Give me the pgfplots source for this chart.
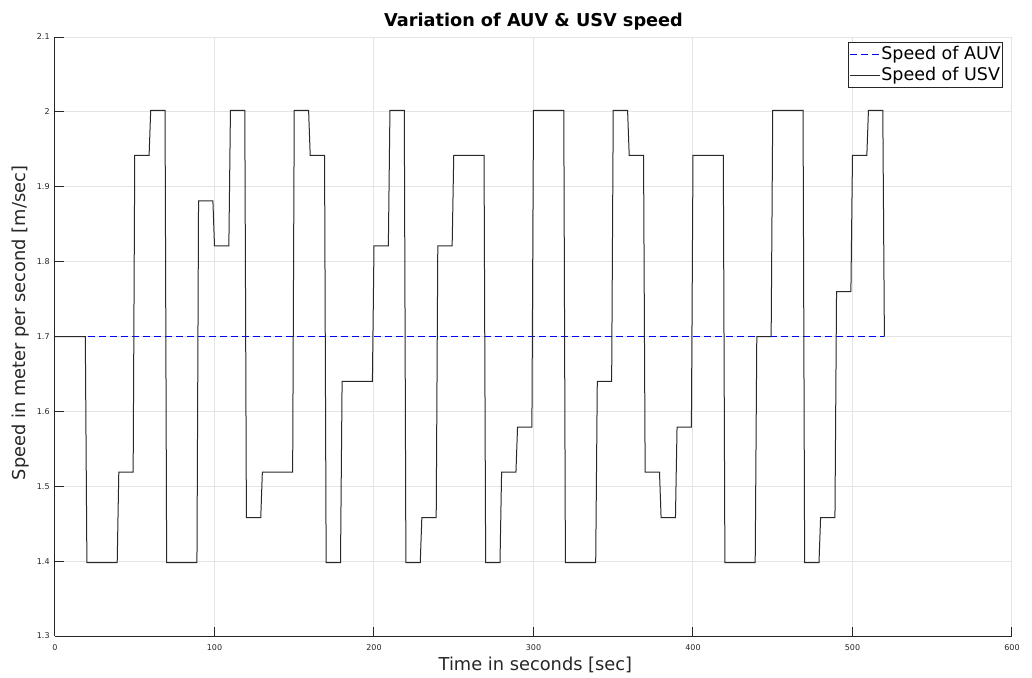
\documentclass[border=0pt]{standalone}
\usepackage{fontspec}
\setmainfont{DejaVu Sans}
\usepackage{pgfplots}
\pgfplotsset{compat=1.18}
\definecolor{axisgray}{RGB}{38,38,38}
\definecolor{gridgray}{RGB}{228,228,228}
\definecolor{usvline}{RGB}{40,40,40}
\begin{document}
\begin{tikzpicture}
\begin{axis}[
  at={(0pt,0pt)}, anchor=south west,
  scale only axis, width=478.5pt, height=299.5pt,
  xmin=0, xmax=600, ymin=1.3, ymax=2.1,
  xtick={0,100,200,300,400,500,600},
  ytick={1.3,1.4,1.5,1.6,1.7,1.8,1.9,2.0,2.1},
  axis lines=left,
  axis line style={-, axisgray, line width=0.5pt},
  tick style={axisgray, line width=0.5pt},
  major tick length=4.5pt, tick align=inside,
  grid=major, major grid style={gridgray, line width=0.5pt},
  /pgf/number format/assume math mode=true,
  ticklabel style={font=\fontsize{4}{5}\selectfont, text=axisgray},
  xticklabel style={anchor=north, inner sep=0pt, yshift=-4pt},
  yticklabel style={anchor=east, inner sep=0pt, xshift=-2.5pt},
  title={Variation of AUV \& USV speed},
  title style={font=\fontsize{8.85}{10}\bfseries, at={(axis description cs:0.5,1)}, anchor=base, yshift=-0.8pt},
  xlabel={Time in seconds [sec]},
  xlabel style={font=\fontsize{8.9}{10}\selectfont, text=axisgray, at={(axis description cs:0.502,0)}, anchor=base, yshift=-17pt},
  ylabel={Speed in meter per second [m/sec]},
  ylabel style={font=\fontsize{8.9}{10}\selectfont, text=axisgray, at={(axis description cs:-0.0313,0.5225)}, anchor=base, rotate=0},
  legend cell align=left,
  legend image code/.code={\draw[#1] (0pt,0pt) -- (15pt,0pt);},
  legend style={at={(axis description cs:1,1)}, anchor=north east, xshift=-4.5pt, yshift=-2.5pt,
    draw=axisgray, line width=0.5pt, fill=white, font=\fontsize{8.75}{10}\selectfont,
    inner xsep=0.5pt, inner ysep=0.5pt, row sep=0pt,
    nodes={inner xsep=0.3pt, inner ysep=1.3pt}},
]
% constant AUV cruising speed
\addplot[blue, line width=0.5pt, dash pattern=on 3.5pt off 2pt] coordinates {(0,1.7) (520,1.7)};
\addlegendentry{Speed of AUV}
% USV speed: piecewise-constant commands with short ramps
\addplot[usvline, line width=0.5pt] coordinates {
(0,1.700) (19,1.700) (20,1.398) (39,1.398) (40,1.519) (49,1.519) (50,1.942) (59,1.942)
(60,2.002) (69,2.002) (70,1.398) (89,1.398) (90,1.881) (99,1.881) (100,1.821) (109,1.821)
(110,2.002) (119,2.002) (120,1.458) (129,1.458) (130,1.519) (149,1.519) (150,2.002) (159,2.002)
(160,1.942) (169,1.942) (170,1.398) (179,1.398) (180,1.640) (199,1.640) (200,1.821) (209,1.821)
(210,2.002) (219,2.002) (220,1.398) (229,1.398) (230,1.458) (239,1.458) (240,1.821) (249,1.821)
(250,1.942) (269,1.942) (270,1.398) (279,1.398) (280,1.519) (289,1.519) (290,1.579) (299,1.579)
(300,2.002) (319,2.002) (320,1.398) (339,1.398) (340,1.640) (349,1.640) (350,2.002) (359,2.002)
(360,1.942) (369,1.942) (370,1.519) (379,1.519) (380,1.458) (389,1.458) (390,1.579) (399,1.579)
(400,1.942) (419,1.942) (420,1.398) (439,1.398) (440,1.700) (449,1.700) (450,2.002) (469,2.002)
(470,1.398) (479,1.398) (480,1.458) (489,1.458) (490,1.760) (499,1.760) (500,1.942) (509,1.942)
(510,2.002) (519,2.002) (520,1.700)
};
\addlegendentry{Speed of USV}
\end{axis}
\pgfresetboundingbox
\path (-27.5pt,-20.5pt) rectangle (488.5pt,318pt);
\end{tikzpicture}
\end{document}
